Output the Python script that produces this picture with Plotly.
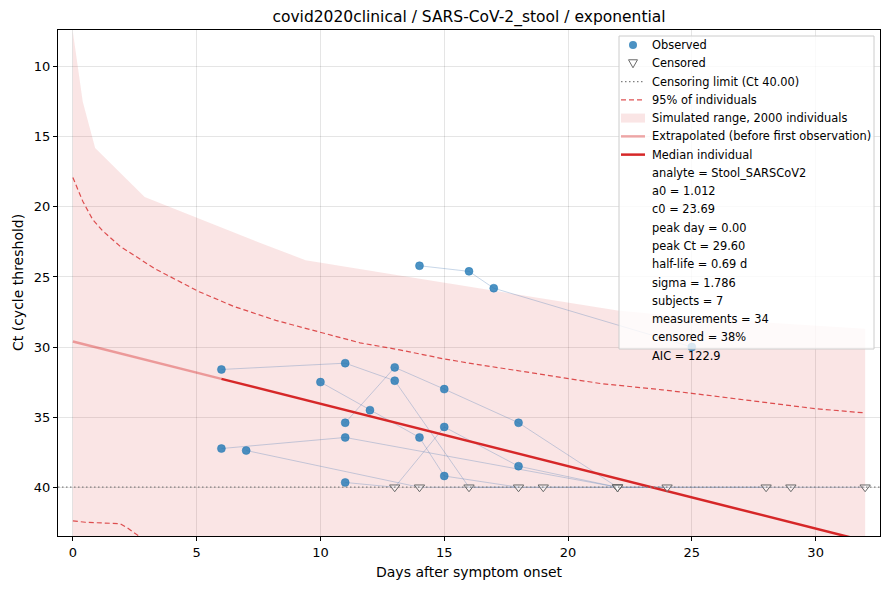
import plotly.graph_objects as go

# per-subject measurements (censored points sit at the limit)
subject_days = [
    [14, 16, 17, 25],
    [6, 11, 13, 16, 19, 24],
    [11, 13, 15, 18, 22],
    [10, 12, 14, 15, 18],
    [6, 11, 22, 28],
    [7, 14, 22],
    [11, 13, 15, 18, 22, 29, 32],
]
subject_ct = [
    [24.2, 24.6, 25.8, 30.0],
    [31.6, 31.15, 32.4, 40, 40, 40],
    [35.4, 31.45, 33.0, 35.4, 40],
    [32.5, 34.5, 36.45, 39.2, 40],
    [37.24, 36.45, 40, 40],
    [37.38, 40, 40],
    [39.66, 40, 35.7, 38.5, 40, 40, 40],
]
subject_cens = [
    [0, 0, 0, 0],
    [0, 0, 0, 1, 1, 1],
    [0, 0, 0, 0, 1],
    [0, 0, 0, 0, 1],
    [0, 0, 1, 1],
    [0, 1, 1],
    [0, 1, 0, 0, 1, 1, 1],
]
ct_limit = 40.0

# simulated envelope (2000 individuals)
band_upper_days = [0, 0.4, 0.9, 2.9, 7.6, 9.4, 13.2, 22, 25, 32]
band_upper_ct = [7.5, 12.5, 15.8, 19.3, 22.6, 23.8, 24.9, 27.4, 27.9, 28.7]
band_lower_days = [0, 32]
band_lower_ct = [50, 50]

# 95% of individuals
p_hi_days = [0, 0.4, 0.8, 1.2, 1.9, 2.7, 3.3, 5.1, 6.5, 8.2, 9.7, 11.6, 13.2, 15, 16.2, 18, 21.3, 23.8, 25, 30, 32]
p_hi_ct = [17.9, 19.6, 20.9, 21.7, 22.8, 23.7, 24.4, 26.05, 27.1, 28.1, 28.8, 29.7, 30.2, 30.85, 31.2, 31.7, 32.6, 33.05, 33.3, 34.4, 34.7]
p_lo_days = [0, 0.5, 1.9, 2.2, 2.6, 3.2]
p_lo_ct = [42.4, 42.5, 42.6, 42.9, 43.4, 44.2]

# median individual
extrap_days = [0, 6]
extrap_ct = [29.6, 32.27]
median_days = [6, 32]
median_ct = [32.27, 43.84]

legend_labels = [
    "Observed",
    "Censored",
    "Censoring limit (Ct %.2f)" % ct_limit,
    "95% of individuals",
    "Simulated range, 2000 individuals",
    "Extrapolated (before first observation)",
    "Median individual",
]
stats_lines = [
    "analyte = Stool_SARSCoV2",
    "a0 = 1.012",
    "c0 = 23.69",
    "peak day = 0.00",
    "peak Ct = 29.60",
    "half-life = 0.69 d",
    "sigma = 1.786",
    "subjects = 7",
    "measurements = 34",
    "censored = 38%",
    "AIC = 122.9",
]

RED = "#d62728"
BLUE = "rgba(31,119,180,0.8)"
PINK = "rgba(214,39,40,0.12)"
DASH_RED = "rgba(214,39,40,0.8)"
LIGHT_RED = "rgba(214,39,40,0.4)"

# page layout in window pixels; the html body adds an 8px offset
W, H = 890, 590
OFF = 8
P_L, P_R, P_T, P_B = 58, 880, 30, 536
ML, MT = P_L - OFF, P_T - OFF
MR, MB = W - (P_R - OFF), H - (P_B - OFF)
PW, PH = P_R - P_L, P_B - P_T

fig = go.Figure()

fig.add_trace(go.Scatter(
    x=band_upper_days + band_lower_days[::-1],
    y=band_upper_ct + band_lower_ct[::-1],
    fill="toself", fillcolor=PINK,
    line=dict(width=0), mode="lines", hoverinfo="skip",
))

for dx, dy in [(p_hi_days, p_hi_ct), (p_lo_days, p_lo_ct)]:
    fig.add_trace(go.Scatter(
        x=dx, y=dy, mode="lines",
        line=dict(color=DASH_RED, width=1.2, dash="5px,3px"),
    ))

fig.add_hline(y=ct_limit, line=dict(color="gray", width=1.2, dash="1.5px,2.5px"))

for days, ct in zip(subject_days, subject_ct):
    fig.add_trace(go.Scatter(
        x=days, y=ct, mode="lines",
        line=dict(color="rgba(70,120,180,0.3)", width=1),
        hoverinfo="skip",
    ))

fig.add_trace(go.Scatter(x=extrap_days, y=extrap_ct, mode="lines",
                         line=dict(color=LIGHT_RED, width=2.5)))
fig.add_trace(go.Scatter(x=median_days, y=median_ct, mode="lines",
                         line=dict(color=RED, width=2.5)))

obs_x, obs_y, cen_x, cen_y = [], [], [], []
for days, ct, cens in zip(subject_days, subject_ct, subject_cens):
    for d, c, flag in zip(days, ct, cens):
        if flag:
            cen_x.append(d)
            cen_y.append(c)
        else:
            obs_x.append(d)
            obs_y.append(c)

fig.add_trace(go.Scatter(
    x=obs_x, y=obs_y, mode="markers",
    marker=dict(color=BLUE, size=8, line=dict(width=0.5, color="rgba(31,119,180,0.9)")),
))
fig.add_trace(go.Scatter(
    x=cen_x, y=cen_y, mode="markers",
    marker=dict(symbol="triangle-down", color="rgba(255,255,255,0.4)", size=9,
                line=dict(width=1, color="dimgray")),
))


# window pixel -> paper coordinate
def px_x(p):
    return (p - P_L) / PW


def px_y(p):
    return (P_B - p) / PH


# hand-built legend box (matplotlib style, compact rows)
box_l, box_r, box_t, box_b = 619, 874, 36, 349
row0, row_step = 45, 18.27
sym_l, sym_r, sym_c, text_x = 621, 645, 633, 650

fig.add_shape(type="rect", xref="paper", yref="paper",
              x0=px_x(box_l), x1=px_x(box_r), y0=px_y(box_b), y1=px_y(box_t),
              fillcolor="rgba(255,255,255,0.8)", line=dict(color="#cccccc", width=1),
              layer="above")

for i, label in enumerate(legend_labels + stats_lines):
    yc = row0 + i * row_step
    fig.add_annotation(xref="paper", yref="paper", x=px_x(text_x), y=px_y(yc),
                       text=label, showarrow=False, xanchor="left", yanchor="middle",
                       font=dict(size=11.4, color="black"))


def glyph_line(i, color, width, dash=None):
    yc = px_y(row0 + i * row_step)
    fig.add_shape(type="line", xref="paper", yref="paper",
                  x0=px_x(sym_l), x1=px_x(sym_r), y0=yc, y1=yc,
                  line=dict(color=color, width=width, dash=dash), layer="above")


y0 = row0
fig.add_shape(type="circle", xref="paper", yref="paper",
              x0=px_x(sym_c - 4), x1=px_x(sym_c + 4), y0=px_y(y0 + 4), y1=px_y(y0 - 4),
              fillcolor=BLUE, line=dict(width=0), layer="above")
y1 = row0 + row_step
fig.add_shape(type="path", xref="paper", yref="paper", layer="above",
              path="M %f,%f L %f,%f L %f,%f Z" % (
                  px_x(sym_c - 4.5), px_y(y1 - 3.5), px_x(sym_c + 4.5), px_y(y1 - 3.5),
                  px_x(sym_c), px_y(y1 + 4.5)),
              fillcolor="white", line=dict(color="dimgray", width=1))
glyph_line(2, "gray", 1.2, "1.5px,2.5px")
glyph_line(3, DASH_RED, 1.2, "5px,3px")
y4 = row0 + 4 * row_step
fig.add_shape(type="rect", xref="paper", yref="paper", layer="above",
              x0=px_x(sym_l), x1=px_x(sym_r), y0=px_y(y4 + 4.5), y1=px_y(y4 - 4.5),
              fillcolor=PINK, line=dict(width=0))
glyph_line(5, LIGHT_RED, 2.5)
glyph_line(6, RED, 2.5)

# axis titles
fig.add_annotation(xref="paper", yref="paper", x=px_x((P_L + P_R) / 2), y=px_y(572),
                   text="Days after symptom onset", showarrow=False,
                   xanchor="center", yanchor="middle", font=dict(size=14))
fig.add_annotation(xref="paper", yref="paper", x=px_x(18), y=px_y((P_T + P_B) / 2),
                   text="Ct (cycle threshold)", showarrow=False, textangle=-90,
                   xanchor="center", yanchor="middle", font=dict(size=14))

axis_style = dict(
    showline=True, linecolor="black", linewidth=1, mirror=True,
    ticks="outside", ticklen=4, tickcolor="black",
    showgrid=True, gridcolor="rgba(0,0,0,0.1)", gridwidth=1,
    zeroline=False, tickfont=dict(size=13, color="black"), automargin=False,
)

fig.update_layout(
    width=W, height=H,
    margin=dict(l=ML, r=MR, t=MT, b=MB),
    plot_bgcolor="white", paper_bgcolor="white",
    font=dict(family="DejaVu Sans", color="black"),
    title=dict(text="covid2020clinical / SARS-CoV-2_stool / exponential",
               x=px_x((P_L + P_R) / 2), xref="paper", xanchor="center",
               y=1 - (17 - OFF) / H, yanchor="middle",
               font=dict(size=15.5), automargin=False),
    xaxis=dict(range=[-0.6, 32.6], dtick=5, tick0=0, **axis_style),
    yaxis=dict(range=[43.48, 7.38], dtick=5, tick0=0, **axis_style),
    showlegend=False,
)

fig.write_html("out.html")
